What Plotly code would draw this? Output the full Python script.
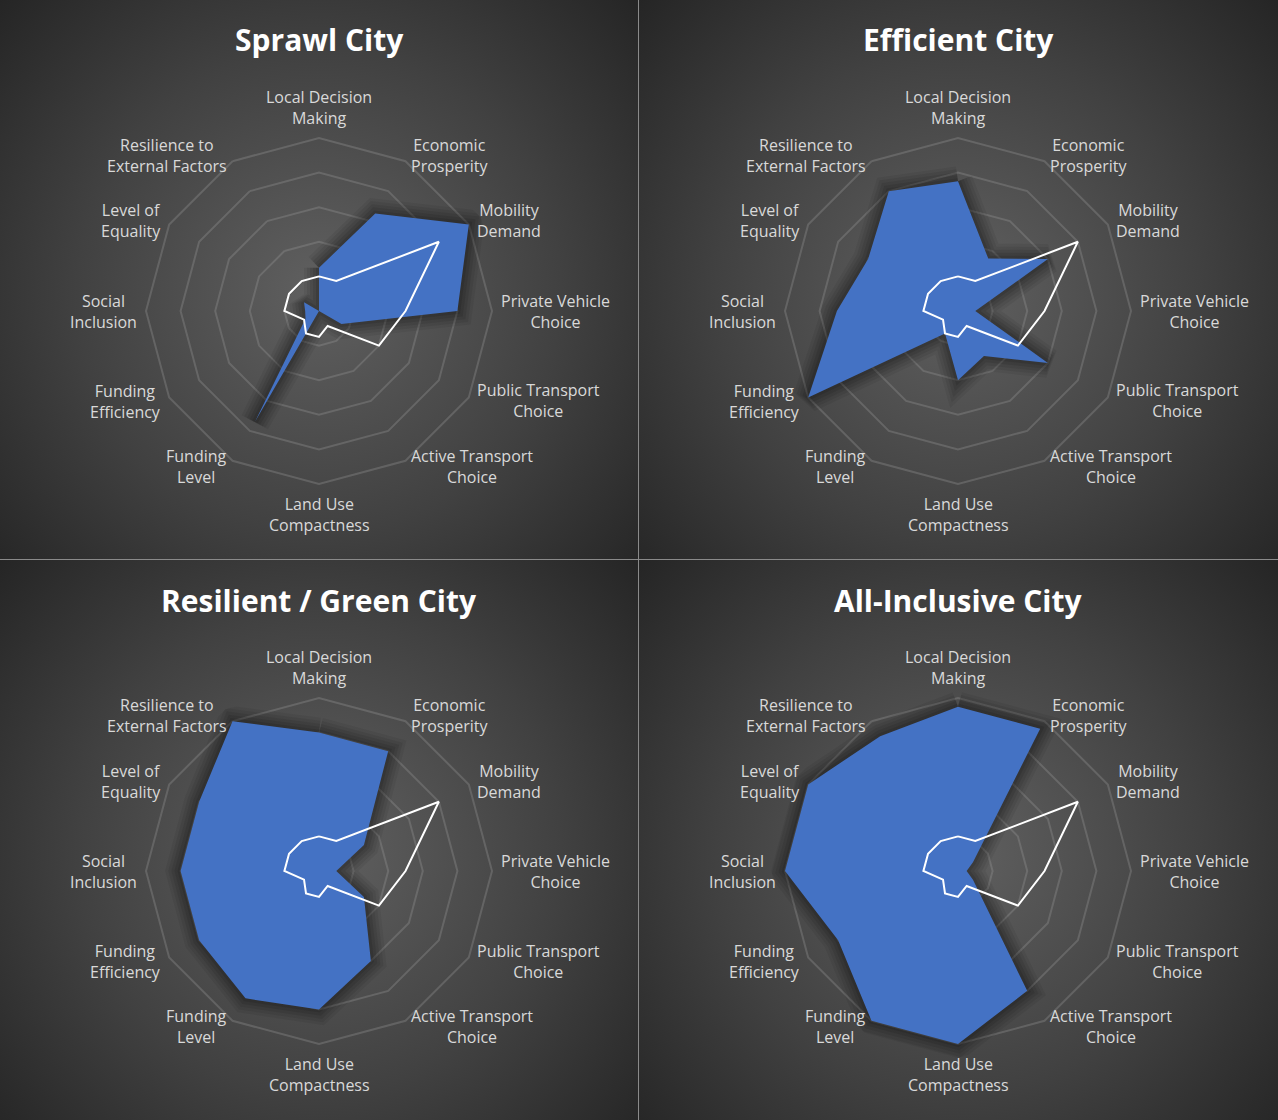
import base64
import math
import plotly.graph_objects as go

# ---------------- data ----------------
categories = [
    "Local Decision Making", "Economic Prosperity", "Mobility Demand",
    "Private Vehicle Choice", "Public Transport Choice", "Active Transport Choice",
    "Land Use Compactness", "Funding Level", "Funding Efficiency",
    "Social Inclusion", "Level of Equality", "Resilience to External Factors",
]
category_labels = [
    "Local Decision<br>Making", "Economic<br>Prosperity", "Mobility<br>Demand",
    "Private Vehicle<br>Choice", "Public Transport<br>Choice", "Active Transport<br>Choice",
    "Land Use<br>Compactness", "Funding<br>Level", "Funding<br>Efficiency",
    "Social<br>Inclusion", "Level of<br>Equality", "Resilience to<br>External Factors",
]
chart_titles = ["Sprawl City", "Efficient City", "Resilient / Green City", "All-Inclusive City"]

baseline = [1.0, 1.0, 4.0, 2.5, 2.0, 0.5, 0.75, 0.75, 0.5, 1.0, 1.0, 1.0]
sprawl_city = [1.25, 3.25, 5.0, 4.0, 0.75, 0.0, 0.0, 3.7, 0.45, 0.4, 0.5, 0.0]
efficient_city = [3.75, 1.75, 3.0, 0.5, 3.0, 1.5, 2.0, 0.75, 5.0, 3.5, 3.0, 4.0]
resilient_city = [4.0, 4.0, 1.5, 0.5, 1.5, 3.0, 4.0, 4.25, 4.0, 4.0, 4.0, 5.0]
inclusive_city = [4.75, 4.75, 0.5, 0.25, 0.5, 4.0, 5.0, 5.0, 4.0, 5.0, 5.0, 4.5]
scenarios = [sprawl_city, efficient_city, resilient_city, inclusive_city]

radial_ticks = [1, 2, 3, 4, 5]

# ---------------- layout constants ----------------
W, H = 1278, 1120
centers = [(319, 311), (958, 311), (319, 871), (958, 871)]
R_OUT = 173.0          # px radius of ring 5
R_MAX = 5.4            # radial range (a bit beyond ring 5 so shadows are not clipped)
R_DOM = R_OUT * R_MAX / 5.0
LABEL_R = 180.0

fig = go.Figure()


def closed(v):
    return list(v) + [v[0]]


theta_closed = closed(categories)

for i, (vals, (cx, cy)) in enumerate(zip(scenarios, centers)):
    pid = "polar" if i == 0 else f"polar{i+1}"
    sub = pid
    # soft shadow halo
    for w, a in [(30, 0.06), (24, 0.07), (18, 0.08), (12, 0.09), (6, 0.10)]:
        fig.add_trace(go.Scatterpolar(
            r=closed(vals), theta=theta_closed, mode="lines",
            line=dict(color=f"rgba(0,0,0,{a})", width=w), subplot=sub,
            hoverinfo="skip", showlegend=False))
    fig.add_trace(go.Scatterpolar(
        r=closed(vals), theta=theta_closed, mode="lines", fill="toself",
        fillcolor="#4472c4",
        line=dict(width=0, color="rgba(0,0,0,0)"), subplot=sub, showlegend=False))
    fig.add_trace(go.Scatterpolar(
        r=closed(baseline), theta=theta_closed, mode="lines",
        line=dict(color="#ffffff", width=2), subplot=sub, showlegend=False))

    polar_cfg = dict(
        domain=dict(x=[(cx - R_DOM) / W, (cx + R_DOM) / W],
                    y=[1 - (cy + R_DOM) / H, 1 - (cy - R_DOM) / H]),
        bgcolor="rgba(0,0,0,0)",
        gridshape="linear",
        radialaxis=dict(range=[0, R_MAX], tickvals=radial_ticks, showticklabels=False,
                        ticks="", showline=False, gridcolor="rgba(150,150,150,0.35)",
                        gridwidth=2),
        angularaxis=dict(categoryorder="array", categoryarray=categories,
                         direction="clockwise", rotation=90, showgrid=False,
                         showline=False, showticklabels=False, ticks=""),
    )
    fig.update_layout(**{pid: polar_cfg})

    # category labels
    n = len(categories)
    for k, lab in enumerate(category_labels):
        ang = 360.0 * k / n
        rad = math.radians(ang)
        px = cx + LABEL_R * math.sin(rad)
        py = cy - LABEL_R * math.cos(rad)
        if abs(ang) < 1e-6:
            xa, ya = "center", "bottom"
        elif abs(ang - 180) < 1e-6:
            xa, ya = "center", "top"
        elif ang < 180:
            xa, ya = "left", "middle"
        else:
            xa, ya = "right", "middle"
        fig.add_annotation(x=px / W, y=1 - py / H, xref="paper", yref="paper",
                           text=lab, showarrow=False, xanchor=xa, yanchor=ya,
                           align="center",
                           font=dict(family="Open Sans", size=16, color="#d9d9d9"))
    # title
    fig.add_annotation(x=cx / W, y=1 - (cy - 271) / H, xref="paper", yref="paper",
                       text=f"<b>{chart_titles[i]}</b>", showarrow=False,
                       xanchor="center", yanchor="middle",
                       font=dict(family="Open Sans", size=30, color="#ffffff"))

# background: radial gradients per panel
grads = []
rects = []
for j, (cx, cy) in enumerate(centers):
    x0 = 0 if cx < W / 2 else 639
    y0 = 0 if cy < H / 2 else 560
    grads.append(
        f'<radialGradient id="g{j}" gradientUnits="userSpaceOnUse" cx="{cx}" cy="{cy-20}" r="440">'
        '<stop offset="0" stop-color="#606060"/><stop offset="0.55" stop-color="#414141"/>'
        '<stop offset="1" stop-color="#242424"/></radialGradient>')
    rects.append(f'<rect x="{x0}" y="{y0}" width="639" height="560" fill="url(#g{j})"/>')
svg = (f'<svg xmlns="http://www.w3.org/2000/svg" width="{W}" height="{H}" viewBox="0 0 {W} {H}">'
       f'<defs>{"".join(grads)}</defs>{"".join(rects)}</svg>')
src = "data:image/svg+xml;base64," + base64.b64encode(svg.encode()).decode()

fig.add_layout_image(dict(source=src, xref="paper", yref="paper", x=0, y=1,
                          sizex=1, sizey=1, xanchor="left", yanchor="top",
                          sizing="stretch", layer="below"))

fig.add_shape(type="line", xref="paper", yref="paper", x0=638.5 / W, x1=638.5 / W,
              y0=0, y1=1, line=dict(color="#8a8a8a", width=1))
fig.add_shape(type="line", xref="paper", yref="paper", x0=0, x1=1,
              y0=1 - 559.5 / H, y1=1 - 559.5 / H, line=dict(color="#8a8a8a", width=1))

fig.update_layout(width=W, height=H, margin=dict(l=0, r=0, t=0, b=0),
                  paper_bgcolor="#2e2e2e", showlegend=False)

fig.write_html("out.html")
